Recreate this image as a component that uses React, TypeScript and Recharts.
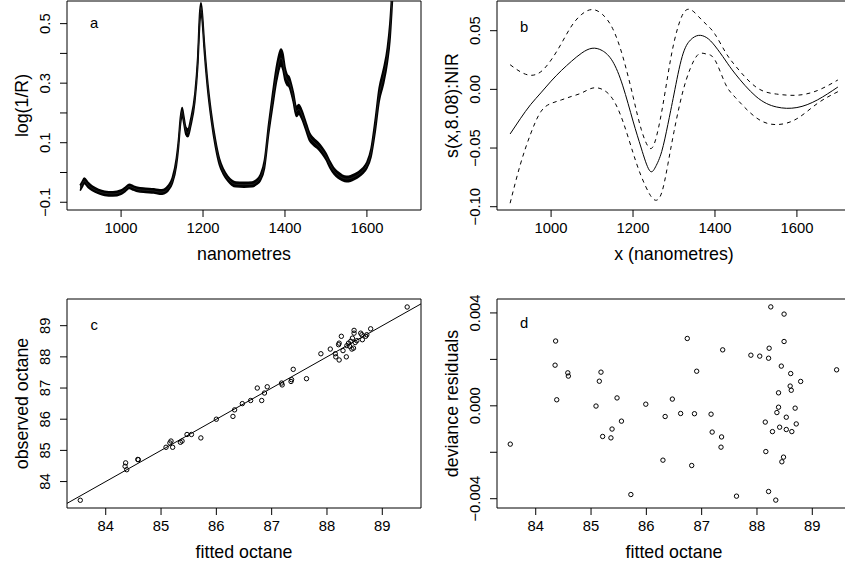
import React from 'react';
import {
  ComposedChart,
  LineChart,
  Line,
  Area,
  ScatterChart,
  Scatter,
  XAxis,
  YAxis,
  ReferenceArea,
  ReferenceLine,
} from 'recharts';

// panel a: NIR spectra (band of overlapping traces: lower / middle / upper)
const aWavelength = [
  900, 905, 910, 920, 930, 945, 960, 980, 1000, 1010,
  1020, 1030, 1040, 1060, 1080, 1095, 1105, 1115, 1125, 1135,
  1140, 1145, 1149, 1153, 1158, 1163, 1170, 1180, 1187, 1192,
  1195, 1198, 1203, 1210, 1220, 1230, 1240, 1250, 1260, 1270,
  1280, 1300, 1320, 1330, 1340, 1350, 1360, 1370, 1380, 1390,
  1395, 1400, 1405, 1410, 1420, 1428, 1434, 1440, 1450, 1460,
  1470, 1480, 1490, 1500, 1510, 1520, 1530, 1540, 1550, 1560,
  1570, 1580, 1590, 1600, 1610, 1620, 1630, 1640, 1650, 1656,
  1662, 1670, 1685, 1700,
];
const aMid = [
  -0.052, -0.04, -0.028, -0.043, -0.054, -0.064, -0.07, -0.072, -0.066, -0.057,
  -0.047, -0.052, -0.057, -0.06, -0.062, -0.066, -0.064, -0.053, -0.028, 0.035,
  0.095, 0.175, 0.205, 0.178, 0.14, 0.133, 0.168, 0.25, 0.37, 0.52,
  0.555, 0.525, 0.425, 0.31, 0.19, 0.1, 0.036, 0.002, -0.02, -0.034,
  -0.04, -0.041, -0.04, -0.033, -0.017, 0.028, 0.145, 0.245, 0.335, 0.385,
  0.372, 0.332, 0.312, 0.305, 0.255, 0.205, 0.212, 0.198, 0.16, 0.12,
  0.103, 0.091, 0.075, 0.054, 0.026, 0.004, -0.009, -0.018, -0.022, -0.02,
  -0.014, -0.006, 0.006, 0.025, 0.066, 0.155, 0.262, 0.32, 0.395, 0.47,
  0.6, 0.8, 1.05, 1.2,
];
const aHigh = [
  -0.043, -0.031, -0.019, -0.034, -0.046, -0.057, -0.063, -0.065, -0.059, -0.05,
  -0.04, -0.045, -0.05, -0.053, -0.055, -0.058, -0.056, -0.044, -0.018, 0.048,
  0.108, 0.188, 0.218, 0.19, 0.152, 0.146, 0.18, 0.263, 0.385, 0.54,
  0.57, 0.54, 0.44, 0.324, 0.203, 0.113, 0.047, 0.011, -0.012, -0.026,
  -0.032, -0.033, -0.032, -0.025, -0.007, 0.042, 0.162, 0.268, 0.362, 0.415,
  0.4, 0.355, 0.33, 0.322, 0.272, 0.222, 0.228, 0.213, 0.174, 0.133,
  0.115, 0.102, 0.086, 0.065, 0.037, 0.014, 0.001, -0.009, -0.013, -0.011,
  -0.005, 0.003, 0.015, 0.035, 0.08, 0.175, 0.285, 0.345, 0.42, 0.5,
  0.63, 0.83, 1.08, 1.23,
];
const aLow = [
  -0.061, -0.049, -0.037, -0.051, -0.061, -0.071, -0.077, -0.079, -0.073, -0.064,
  -0.054, -0.059, -0.064, -0.067, -0.069, -0.073, -0.071, -0.061, -0.037, 0.022,
  0.082, 0.162, 0.192, 0.166, 0.128, 0.12, 0.156, 0.237, 0.355, 0.5,
  0.54, 0.51, 0.41, 0.296, 0.177, 0.088, 0.025, -0.007, -0.028, -0.042,
  -0.048, -0.049, -0.048, -0.041, -0.027, 0.014, 0.128, 0.222, 0.31, 0.358,
  0.345, 0.31, 0.294, 0.288, 0.238, 0.188, 0.196, 0.183, 0.146, 0.107,
  0.091, 0.08, 0.064, 0.043, 0.015, -0.006, -0.019, -0.027, -0.031, -0.029,
  -0.023, -0.015, -0.003, 0.015, 0.052, 0.135, 0.24, 0.295, 0.37, 0.44,
  0.57, 0.77, 1.02, 1.17,
];

// panel b: smooth term with +/- 2 se bands
const bX = [
  900, 925, 950, 975, 1000, 1025, 1050, 1075, 1100, 1125, 1150, 1175, 1200, 1220, 1240, 1255,
  1270, 1285, 1300, 1320, 1340, 1360, 1380, 1400, 1425, 1450, 1500, 1550, 1600, 1650, 1700,
];
const bFit = [
  -0.038, -0.025, -0.013, -0.003, 0.007, 0.016, 0.024, 0.031, 0.035, 0.033, 0.024, 0.003, -0.027, -0.05, -0.069, -0.066,
  -0.053, -0.03, -0.004, 0.028, 0.042, 0.046, 0.044, 0.037, 0.025, 0.013, -0.006, -0.015, -0.0155, -0.009, 0.002,
];
const bUpper = [
  0.021, 0.015, 0.012, 0.015, 0.025, 0.039, 0.054, 0.064, 0.068, 0.064, 0.052, 0.028, -0.006, -0.034, -0.05, -0.043,
  -0.019, 0.012, 0.04, 0.063, 0.068, 0.062, 0.055, 0.047, 0.032, 0.02, 0.002, -0.004, -0.005, -0.001, 0.008,
];
const bLower = [
  -0.097, -0.064, -0.038, -0.019, -0.012, -0.009, -0.006, -0.003, 0.001, 0.0, -0.008, -0.027, -0.054, -0.074, -0.089, -0.0945,
  -0.088, -0.064, -0.036, -0.004, 0.018, 0.03, 0.03, 0.025, 0.005, -0.007, -0.024, -0.03, -0.025, -0.012, -0.002,
];

// panel c: observed vs fitted octane
const cFitted = [
  83.54, 84.36, 84.35, 84.38, 84.58, 84.59, 85.09, 85.16, 85.18, 85.21, 85.35, 85.38, 85.47, 85.55, 85.72,
  86.0, 86.3, 86.33, 86.47, 86.62, 86.74, 86.82, 86.87, 86.92, 87.18, 87.19, 87.35, 87.36, 87.39, 87.63,
  87.89, 88.06, 88.15, 88.16, 88.21, 88.22, 88.22, 88.26, 88.29, 88.35, 88.36, 88.39, 88.41, 88.43, 88.45,
  88.46, 88.48, 88.49, 88.49, 88.51, 88.54, 88.61, 88.63, 88.64, 88.7, 88.72, 88.79, 89.45,
];
const cObserved = [
  83.4, 84.6, 84.49, 84.38, 84.71, 84.7, 85.1, 85.24, 85.3, 85.1, 85.26, 85.3, 85.51, 85.51, 85.4,
  86.0, 86.09, 86.3, 86.5, 86.6, 87.0, 86.6, 86.84, 87.04, 87.16, 87.1, 87.21, 87.27, 87.6, 87.3,
  88.1, 88.25, 88.1, 88.0, 88.39, 87.9, 88.44, 88.66, 88.2, 88.0, 88.36, 88.44, 88.34, 88.5, 88.25,
  88.6, 88.28, 88.85, 88.76, 88.46, 88.52, 88.76, 88.71, 88.55, 88.66, 88.71, 88.9, 89.6,
];
const identityLine = [83.3, 89.7];

// panel d: deviance residuals vs fitted
const dFitted = [
  83.54, 84.36, 84.35, 84.38, 84.58, 84.59, 85.09, 85.15, 85.18, 85.21, 85.36, 85.38, 85.47, 85.55, 85.72,
  85.99, 86.3, 86.34, 86.47, 86.62, 86.74, 86.82, 86.87, 86.91, 87.17, 87.19, 87.35, 87.36, 87.38, 87.63,
  87.89, 88.05, 88.15, 88.16, 88.21, 88.21, 88.22, 88.25, 88.28, 88.34, 88.36, 88.39, 88.39, 88.41, 88.44,
  88.45, 88.48, 88.49, 88.49, 88.53, 88.53, 88.6, 88.61, 88.62, 88.63, 88.69, 88.71, 88.79, 89.44,
];
const dResidual = [
  -0.00165, 0.00279, 0.00175, 0.00026, 0.00142, 0.00128, -0.00001, 0.00106, 0.00145, -0.00132, -0.00138, -0.001, 0.00034, -0.00066, -0.00382,
  0.00007, -0.00234, -0.00046, 0.00029, -0.00033, 0.0029, -0.00257, -0.00034, 0.00149, -0.00036, -0.00113, -0.00178, -0.00134, 0.00241, -0.00389,
  0.00218, 0.00214, -0.0007, -0.00197, 0.00205, -0.00369, 0.00248, 0.00426, -0.00111, -0.00406, -0.00029, 0.00056, -0.00006, -0.00092, 0.00171,
  -0.00241, -0.00221, 0.00395, 0.00277, -0.00049, -0.00102, 0.00085, 0.00139, 0.00067, -0.00111, -0.0001, -0.00078, 0.00105, 0.00155,
];

const nmTicks = [1000, 1200, 1400, 1600];
const octaneTicks = [84, 85, 86, 87, 88, 89];
const aYTicks = [-0.1, 0, 0.1, 0.2, 0.3, 0.4, 0.5];
const aYLabelled = [-0.1, 0.1, 0.3, 0.5];
const bYTicks = [-0.1, -0.05, 0, 0.05];
const cYTicks = [84, 85, 86, 87, 88, 89];
const dYTicks = [-0.004, -0.002, 0, 0.002, 0.004];
const dYLabelled = [-0.004, 0, 0.004];

const nmDomain = [868, 1732];
const octaneDomain = [83.3, 89.7];
const aYDomain = [-0.126, 0.576];
const bYDomain = [-0.1028, 0.0753];
const cYDomain = [83.152, 89.856];
const dYDomain = [-0.0044, 0.0046];

const FONT = "'Liberation Sans', Arial, Helvetica, sans-serif";
const W = 860;
const H = 620;
const AXW = 40;
const AXH = 50;

type Box = { l: number; t: number; r: number; b: number };
const boxA: Box = { l: 67, t: 1, r: 421, b: 210 };
const boxB: Box = { l: 497, t: 1, r: 851, b: 210 };
const boxC: Box = { l: 67, t: 299, r: 421, b: 508 };
const boxD: Box = { l: 497, t: 299, r: 851, b: 508 };

const marginFor = (box: Box) => ({
  top: box.t,
  left: box.l - AXW,
  right: W - box.r,
  bottom: H - box.b - AXH,
});

const fmt = (v: number, digits: number) => v.toFixed(digits).replace('-', '\u2212');

const xTick = (props: any) => (
  <text x={props.x} y={props.y} dy="0.71em" textAnchor="middle" fontSize={14.8} fontFamily={FONT} fill="#000">
    {props.payload.value}
  </text>
);

const yTick = (digits: number, labelled?: number[]) => (props: any) => {
  const v = props.payload.value;
  if (labelled && !labelled.some((t) => Math.abs(t - v) < 1e-9)) return <g />;
  return (
    <text
      x={props.x}
      y={props.y}
      transform={`rotate(-90, ${props.x}, ${props.y})`}
      textAnchor="middle"
      fontSize={14.8}
      fontFamily={FONT}
      fill="#000"
    >
      {fmt(v, digits)}
    </text>
  );
};

const xTitle = (text: string, box: Box) => () => (
  <text x={(box.l + box.r) / 2} y={box.b + 49.5} textAnchor="middle" fontSize={17.8} fontFamily={FONT} fill="#000">
    {text}
  </text>
);

const yTitle = (text: string, box: Box) => () => {
  const x = box.l - 38.7;
  const y = (box.t + box.b) / 2;
  return (
    <text x={x} y={y} transform={`rotate(-90, ${x}, ${y})`} textAnchor="middle" fontSize={17.8} fontFamily={FONT} fill="#000">
      {text}
    </text>
  );
};

const circle = (props: any) => <circle cx={props.cx} cy={props.cy} r={2.2} fill="none" stroke="#000" strokeWidth={1} />;

const layer: React.CSSProperties = { position: 'absolute', left: 0, top: 0 };

const spectraRows = aWavelength.map((nm, i) => ({ nm, band: [aLow[i], aHigh[i]], mid: aMid[i] }));
const smoothRows = bX.map((nm, i) => ({ nm, fit: bFit[i], up: bUpper[i], lo: bLower[i] }));
const cPoints = cFitted.map((x, i) => ({ x, y: cObserved[i] }));
const dPoints = dFitted.map((x, i) => ({ x, y: dResidual[i] }));

const axisCommon = {
  type: 'number' as const,
  allowDataOverflow: true,
  interval: 0 as const,
  axisLine: false,
  tickLine: { stroke: '#000' },
  tickSize: 7,
};

const App: React.FC = () => {
  return (
    <div style={{ position: 'absolute', left: 0, top: 0, width: 845, height: 566, overflow: 'hidden', background: '#fff' }}>
      {/* a */}
      <div style={layer}>
        <ComposedChart width={W} height={H} data={spectraRows} margin={marginFor(boxA)}>
          <XAxis {...axisCommon} dataKey="nm" domain={nmDomain} ticks={nmTicks} height={AXH} tickMargin={5} tick={xTick}
            label={xTitle('nanometres', boxA)} />
          <YAxis {...axisCommon} domain={aYDomain} ticks={aYTicks} width={AXW} tickMargin={10} tick={yTick(1, aYLabelled)}
            label={yTitle('log(1/R)', boxA)} />
          <Area type="monotone" dataKey="band" fill="#000" fillOpacity={1} stroke="#000" strokeWidth={1.6} dot={false} activeDot={false} isAnimationActive={false} />
          <Line type="monotone" dataKey="mid" stroke="#333" strokeWidth={0.6} dot={false} isAnimationActive={false} />
          <ReferenceArea x1={nmDomain[0]} x2={nmDomain[1]} y1={aYDomain[0]} y2={aYDomain[1]} fill="none" stroke="#000" ifOverflow="visible" />
        </ComposedChart>
      </div>

      {/* b */}
      <div style={layer}>
        <LineChart width={W} height={H} data={smoothRows} margin={marginFor(boxB)}>
          <XAxis {...axisCommon} dataKey="nm" domain={nmDomain} ticks={nmTicks} height={AXH} tickMargin={5} tick={xTick}
            label={xTitle('x (nanometres)', boxB)} />
          <YAxis {...axisCommon} domain={bYDomain} ticks={bYTicks} width={AXW} tickMargin={10} tick={yTick(2)}
            label={yTitle('s(x,8.08):NIR', boxB)} />
          <Line type="natural" dataKey="up" stroke="#000" strokeWidth={1} strokeDasharray="4 4" dot={false} isAnimationActive={false} />
          <Line type="natural" dataKey="fit" stroke="#000" strokeWidth={1} dot={false} isAnimationActive={false} />
          <Line type="natural" dataKey="lo" stroke="#000" strokeWidth={1} strokeDasharray="4 4" dot={false} isAnimationActive={false} />
          <ReferenceArea x1={nmDomain[0]} x2={nmDomain[1]} y1={bYDomain[0]} y2={bYDomain[1]} fill="none" stroke="#000" ifOverflow="visible" />
        </LineChart>
      </div>

      {/* c */}
      <div style={layer}>
        <ScatterChart width={W} height={H} margin={marginFor(boxC)}>
          <XAxis {...axisCommon} dataKey="x" domain={octaneDomain} ticks={octaneTicks} height={AXH} tickMargin={5} tick={xTick}
            label={xTitle('fitted octane', boxC)} />
          <YAxis {...axisCommon} dataKey="y" domain={cYDomain} ticks={cYTicks} width={AXW} tickMargin={10} tick={yTick(0)}
            label={yTitle('observed octane', boxC)} />
          <ReferenceLine
            segment={[
              { x: identityLine[0], y: identityLine[0] },
              { x: identityLine[1], y: identityLine[1] },
            ]}
            stroke="#000"
            ifOverflow="visible"
          />
          <Scatter data={cPoints} shape={circle} isAnimationActive={false} />
          <ReferenceArea x1={octaneDomain[0]} x2={octaneDomain[1]} y1={cYDomain[0]} y2={cYDomain[1]} fill="none" stroke="#000" ifOverflow="visible" />
        </ScatterChart>
      </div>

      {/* d */}
      <div style={layer}>
        <ScatterChart width={W} height={H} margin={marginFor(boxD)}>
          <XAxis {...axisCommon} dataKey="x" domain={octaneDomain} ticks={octaneTicks} height={AXH} tickMargin={5} tick={xTick}
            label={xTitle('fitted octane', boxD)} />
          <YAxis {...axisCommon} dataKey="y" domain={dYDomain} ticks={dYTicks} width={AXW} tickMargin={10} tick={yTick(3, dYLabelled)}
            label={yTitle('deviance residuals', boxD)} />
          <Scatter data={dPoints} shape={circle} isAnimationActive={false} />
          <ReferenceArea x1={octaneDomain[0]} x2={octaneDomain[1]} y1={dYDomain[0]} y2={dYDomain[1]} fill="none" stroke="#000" ifOverflow="visible" />
        </ScatterChart>
      </div>

      {/* panel letters */}
      <svg width={845} height={566} style={{ ...layer, pointerEvents: 'none' }}>
        <g fontSize={14.8} fontFamily={FONT} fill="#000">
          <text x={90} y={28}>a</text>
          <text x={520} y={31.5}>b</text>
          <text x={90.5} y={330}>c</text>
          <text x={520} y={328}>d</text>
        </g>
      </svg>
    </div>
  );
};

export default App;
